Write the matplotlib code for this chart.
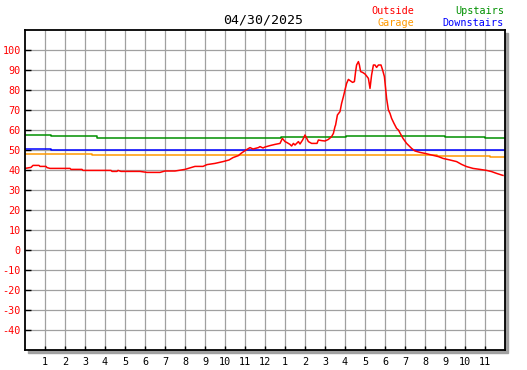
import matplotlib
matplotlib.use('Agg')
import matplotlib.pyplot as plt
from matplotlib.patches import Rectangle

plt.rcParams['font.family'] = 'DejaVu Sans Mono'

title = '04/30/2025'

# Outside temperature (hour of day, degrees)
outside_hours = [0.0, 0.3, 0.4, 0.7, 0.75, 1.05, 1.1, 1.25, 2.25, 2.3, 2.85, 2.9,
                 4.3, 4.35, 4.6, 4.65, 4.8, 5.75, 6.1, 6.75, 7.0, 7.5, 8.0, 8.33,
                 8.5, 8.9, 9.1, 9.5, 9.9, 10.2, 10.4, 10.67, 10.8, 11.05, 11.25,
                 11.4, 11.67, 11.75, 11.9, 12.0, 12.25, 12.5, 12.75, 12.87, 13.0,
                 13.1, 13.25, 13.33, 13.42, 13.5, 13.67, 13.75, 13.88, 14.0, 14.17,
                 14.33, 14.6, 14.67, 14.83, 15.0, 15.17, 15.33, 15.42, 15.5, 15.53,
                 15.62, 15.75, 15.83, 15.92, 16.0, 16.08, 16.17, 16.25, 16.38, 16.47,
                 16.53, 16.58, 16.67, 16.72, 16.78, 16.88, 17.0, 17.08, 17.17, 17.25,
                 17.33, 17.42, 17.5, 17.58, 17.67, 17.8, 17.88, 17.97, 18.03, 18.08,
                 18.17, 18.25, 18.33, 18.45, 18.58, 18.67, 18.9, 19.08, 19.33, 19.5,
                 19.75, 20.0, 20.33, 20.67, 20.9, 21.25, 21.58, 21.83, 22.08, 22.4,
                 22.75, 23.08, 23.33, 23.58, 23.83, 23.9]
outside_temps = [40.8, 41.3, 42.3, 42.3, 41.8, 41.8, 41.2, 40.8, 40.8, 40.3, 40.3, 39.8,
                 39.8, 39.3, 39.3, 39.8, 39.3, 39.3, 38.8, 38.8, 39.5, 39.5, 40.3, 41.3,
                 41.8, 41.8, 42.7, 43.3, 44.2, 45.0, 46.2, 47.2, 48.3, 50.0, 51.2,
                 50.5, 51.2, 51.7, 51.0, 51.5, 52.2, 52.8, 53.3, 55.8, 54.2,
                 53.7, 52.8, 52.0, 53.3, 52.5, 54.2, 53.0, 55.0, 57.5, 54.2,
                 53.3, 53.3, 55.0, 54.7, 54.5, 55.3, 56.7, 58.3, 61.7, 62.5,
                 67.5, 69.2, 73.3, 76.7, 80.0, 83.3, 85.3, 84.7, 83.8, 84.2,
                 89.2, 92.5, 94.2, 92.5, 89.2, 88.8, 88.0, 87.0, 85.8, 80.8,
                 87.5, 92.5, 92.5, 91.3, 92.5, 92.5, 90.0, 86.7, 80.8, 75.8,
                 70.0, 68.3, 65.8, 63.3, 60.8, 60.0, 55.8, 53.3, 50.8, 49.5,
                 48.8, 48.3, 47.5, 46.7, 45.8, 45.0, 44.2, 42.8, 41.7, 40.8,
                 40.3, 39.8, 39.2, 38.3, 37.5, 37.3]

# indoor sensors change in small steps
upstairs_hours = [0, 1.3, 3.58, 5.75, 12.8, 16.05, 21.0, 23.0, 24]
upstairs_temps = [57.3, 56.8, 56.2, 55.8, 56.3, 56.8, 56.3, 55.8, 55.8]

garage_hours = [0, 2.7, 3.33, 20.6, 23.25, 24]
garage_temps = [48.2, 47.8, 47.7, 47.2, 46.7, 46.7]

downstairs_hours = [0, 1.3, 24]
downstairs_temps = [50.3, 49.8, 49.8]

hour_ticks = list(range(1, 24))
hour_labels = [str(h if h <= 12 else h - 12) for h in hour_ticks]
temp_ticks = list(range(-40, 101, 10))
temp_labels = [str(t) for t in temp_ticks]

W, H = 527, 370
fig = plt.figure(figsize=(W / 100, H / 100), dpi=100)
ax = fig.add_axes([25 / W, 20 / H, 480 / W, 320 / H])

# drop shadow behind the plot box
fig.patches.append(Rectangle((28 / W, 17 / H), 480 / W, 320 / H,
                             transform=fig.transFigure, color='#a0a0a0', zorder=-1))

ax.plot(upstairs_hours, upstairs_temps, color='#009000', lw=1.1, drawstyle='steps-post')
ax.plot(garage_hours, garage_temps, color='#ff9900', lw=1.1, drawstyle='steps-post')
ax.plot(downstairs_hours, downstairs_temps, color='#0000ff', lw=1.1, drawstyle='steps-post')
ax.plot(outside_hours, outside_temps, color='#ff0000', lw=1.1)

ax.set_xlim(0, 24)
ax.set_ylim(-50, 110)
ax.set_xticks(hour_ticks)
ax.set_xticklabels(hour_labels)
ax.set_yticks(temp_ticks)
ax.set_yticklabels(temp_labels)
ax.grid(True, color='#a0a0a0', lw=0.9)
ax.set_axisbelow(True)
ax.tick_params(axis='y', direction='in', length=4, width=1, colors='black',
               labelcolor='#ff0000', labelsize=7.3, pad=3)
ax.tick_params(axis='x', direction='in', length=3, width=1, colors='black',
               labelcolor='black', labelsize=7.3, pad=5)
for s in ax.spines.values():
    s.set_color('black')
    s.set_linewidth(1.3)

fig.text(263 / W, 1 - 20 / H, title, ha='center', va='center', fontsize=9.5, color='black')
fig.text(414 / W, 1 - 11.5 / H, 'Outside', ha='right', va='center', fontsize=7.3, color='#ff0000')
fig.text(414 / W, 1 - 23.5 / H, 'Garage', ha='right', va='center', fontsize=7.3, color='#ff9900')
fig.text(504 / W, 1 - 11.5 / H, 'Upstairs', ha='right', va='center', fontsize=7.3, color='#009000')
fig.text(504 / W, 1 - 23.5 / H, 'Downstairs', ha='right', va='center', fontsize=7.3, color='#0000ff')

fig.savefig('out.png', dpi=100)
